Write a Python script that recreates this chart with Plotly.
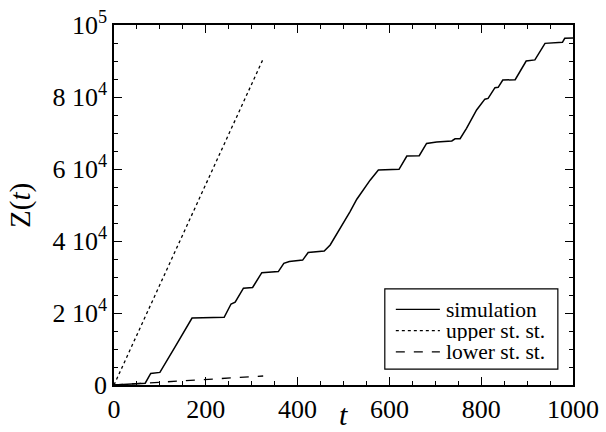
import plotly.graph_objects as go

# simulation curve
sim_t = [0, 30, 60, 68, 80, 100, 135, 170, 240, 255, 264, 282, 302, 322, 358, 370, 382, 411, 423,
         458, 471, 489, 514, 529, 549, 558, 576, 621, 638, 665, 681, 703, 736, 743, 754, 768,
         790, 808, 815, 830, 837, 847, 874, 898, 917, 939, 977, 982, 1000]
sim_z = [0, 200, 400, 500, 3200, 3500, 11000, 18600, 18800, 22500, 23000, 26900, 27100, 31200,
         31500, 33800, 34300, 34700, 36800, 37200, 38900, 42600, 48100, 51600, 55200, 56900,
         59700, 59900, 63600, 63700, 67100, 67500, 67800, 68400, 68400, 71300, 76400, 79400,
         79600, 82600, 82700, 84700, 84800, 90000, 90300, 94900, 95200, 96300, 96400]

upper_t = [0, 324]
upper_z = [0, 90300]

lower_t = [0, 325]
lower_z = [0, 2500]

x_ticks = [0, 200, 400, 600, 800, 1000]
y_ticks = [0, 20000, 40000, 60000, 80000, 100000]
y_labels = ["0", "2 10<sup>4</sup>", "4 10<sup>4</sup>", "6 10<sup>4</sup>",
            "8 10<sup>4</sup>", "10<sup>5</sup>"]

series_names = ["simulation", "upper st. st.", "lower st. st."]
series_dash = ["solid", "dot", "dash"]

font = "Liberation Serif"

fig = go.Figure()
for name, tt, zz, dash in zip(series_names, [sim_t, upper_t, lower_t],
                              [sim_z, upper_z, lower_z], series_dash):
    fig.add_trace(go.Scatter(x=tt, y=zz, mode="lines", name=name, showlegend=False,
                             line=dict(color="black", width=1.5 if dash == "solid" else 1.3,
                                       dash=dash)))

axis_common = dict(showgrid=False, zeroline=False, showline=True, linecolor="black",
                   linewidth=1.5, mirror="ticks", ticks="inside", ticklen=8, tickwidth=1.2,
                   tickcolor="black", automargin=False,
                   tickfont=dict(family=font, size=26, color="black"))

fig.update_xaxes(range=[0, 1000], tickvals=x_ticks, ticktext=[str(v) for v in x_ticks],
                 minor=dict(dtick=50, ticks="inside", ticklen=4, tickcolor="black", tickwidth=1),
                 **axis_common)
fig.update_yaxes(range=[0, 100000], tickvals=y_ticks, ticktext=y_labels,
                 minor=dict(dtick=5000, ticks="inside", ticklen=4, tickcolor="black", tickwidth=1),
                 **axis_common)

# axis titles
fig.add_annotation(text="<i>t</i>", xref="paper", yref="paper", x=0.5, y=-0.083,
                   xanchor="center", yanchor="middle", showarrow=False,
                   font=dict(family=font, size=30, color="black"))
fig.add_annotation(text="Z(<i>t</i>)", xref="paper", yref="paper", x=-0.205, y=0.5,
                   xanchor="center", yanchor="middle", textangle=-90, showarrow=False,
                   font=dict(family=font, size=29, color="black"))

# custom legend box
fig.add_shape(type="rect", xref="paper", yref="paper", x0=0.590, x1=0.967, y0=0.044, y1=0.267,
              line=dict(color="black", width=1.2), fillcolor="white", layer="above")
row_y = [0.210, 0.151, 0.092]
for name, dash, yy in zip(series_names, series_dash, row_y):
    fig.add_shape(type="line", xref="paper", yref="paper", x0=0.614, x1=0.710, y0=yy, y1=yy,
                  line=dict(color="black", width=1.2, dash=dash), layer="above")
    fig.add_annotation(text=name, xref="paper", yref="paper", x=0.718, y=yy,
                       xanchor="left", yanchor="middle", showarrow=False, height=21,
                       font=dict(family=font, size=21.5, color="black"))

fig.update_layout(
    template="none",
    width=606, height=432,
    margin=dict(l=114, r=33, t=25, b=47, autoexpand=False),
    plot_bgcolor="white", paper_bgcolor="white",
    font=dict(family=font, color="black"),
    showlegend=False,
)

fig.write_html("out.html", config={"displayModeBar": False},
               post_script="document.body.style.margin='0';document.body.style.padding='0';")
